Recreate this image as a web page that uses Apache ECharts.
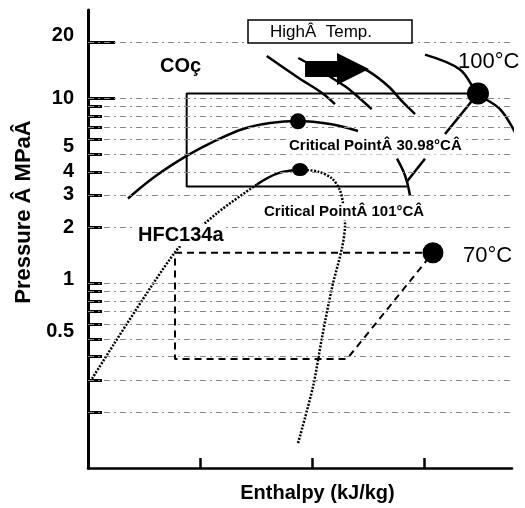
<!DOCTYPE html>
<html>
<head>
<meta charset="utf-8">
<script src="https://cdn.jsdelivr.net/npm/echarts@6/dist/echarts.min.js"></script>
<style>
  html, body { margin: 0; background: #fff; }
  #main { width: 525px; height: 508px; }
</style>
</head>
<body>
<div id="main"></div>
<script>
// pressure axis (MPa, log)
var pressureTicks = [0.2, 0.3, 0.4, 0.5, 0.6, 0.7, 0.8, 0.9, 1, 2, 3, 4, 5, 6, 7, 8, 9, 10, 20];
var pressureLabels = [0.5, 1, 2, 3, 4, 5, 10, 20];
var longTicks = [10, 20];
var raisedLabels = [0.5, 5, 20];
var halfRaisedLabels = [1];
// enthalpy axis ticks (no labels in the figure)
var enthalpyTicks = [200, 300, 400];

// CO2 : [enthalpy, pressure]
var co2Dome = [[135.7, 2.87], [159.8, 3.77], [188.4, 4.89], [213.4, 5.88], [238.4, 6.82],
  [262.5, 7.34], [287.5, 7.53], [316.1, 7.25], [341.1, 6.65]];
var co2Critical = [287.5, 7.5];
var co2Cycle = [[448.2, 10.6], [188.1, 10.6], [188.1, 3.33], [384.8, 3.33]];
var co2CompLow = [[384.8, 3.54], [400.9, 4.71]];
var co2CompHigh = [[418.8, 6.41], [448.2, 10.6]];
var co2Discharge = [448.2, 10.6];

// isotherms
var iso1 = [[259.6, 16.9], [287.8, 12.9], [308.7, 10.7], [320.5, 9.29]];
var iso2 = [[287.8, 16.5], [300.9, 14.9], [329.5, 11.6], [338.4, 10.5], [353.3, 8.73]];
var iso3 = [[333.9, 15.4], [350.3, 14.0], [368.1, 11.6], [380.1, 9.67], [392.0, 8.21]];
var iso100 = [[400.9, 17.2], [432.1, 14.3], [448.2, 10.6], [467.9, 8.73], [482.8, 6.28]];
var isoLow = [[375.9, 4.71], [381.3, 4.06], [384.8, 3.54], [387.5, 2.98]];

// HFC134a
var hfcLeft = [[103.6, 0.304], [177.7, 1.47], [215.2, 2.39], [250.9, 3.42]];
var hfcTop = [[250.9, 3.42], [268.8, 3.91], [289.3, 4.11]];
var hfcRight = [[289.3, 4.11], [305.4, 4.01], [317.9, 3.68], [325.0, 3.17], [327.7, 2.70],
  [329.5, 2.06], [326.8, 1.55], [317.9, 0.946], [309.0, 0.51], [300.9, 0.275], [287.5, 0.136]];
var hfcCritical = [289.3, 4.11];
var hfcCycle = [[177.7, 1.46], [408.0, 1.46], [331.3, 0.389], [177.7, 0.389], [177.7, 1.46]];
var hfcDischarge = [408.0, 1.46];

// "high temp." arrow
var arrowLine = [[293.8, 14.4], [336.6, 14.4]];

var FONT = 'Liberation Sans, Arial, sans-serif';

function curve(data, opts) {
  opts = opts || {};
  return {
    type: 'line',
    data: data,
    symbol: 'none',
    smooth: opts.smooth || 0,
    clip: opts.clip !== false,
    z: 3,
    lineStyle: { color: '#000', width: opts.width || 2.5, type: opts.type || 'solid' }
  };
}

function label(text, x, y, size, weight, bg) {
  return {
    type: 'text', x: x, y: y, z: 100,
    style: {
      text: text, font: weight + ' ' + size + 'px ' + FONT, fill: '#000',
      verticalAlign: 'middle', backgroundColor: bg ? '#fff' : null, padding: bg ? [1, 2] : 0
    }
  };
}

var tickFont = { color: '#000', fontFamily: FONT, fontWeight: 'bold', fontSize: 20 };

var chart = echarts.init(document.getElementById('main'));

chart.setOption({
  animation: false,
  backgroundColor: '#fff',
  grid: { left: 88, right: 13, top: 10, bottom: 36 },
  xAxis: {
    type: 'value', min: 100, max: 478.6, interval: 100,
    name: 'Enthalpy (kJ/kg)', nameLocation: 'middle', nameGap: 15,
    nameTextStyle: { color: '#000', fontFamily: FONT, fontWeight: 'bold', fontSize: 20, padding: [0, 0, 0, 35] },
    axisLine: { onZero: false, lineStyle: { color: '#000', width: 2.5 } },
    axisTick: { inside: true, length: 10, customValues: enthalpyTicks, lineStyle: { color: '#000', width: 2.5 } },
    axisLabel: { show: false },
    splitLine: { show: false }
  },
  yAxis: [{
    type: 'log', logBase: 10, min: 0.1, max: 30, position: 'left',
    name: 'Pressure Â MPaÂ', nameLocation: 'middle', nameRotate: 90, nameGap: 48,
    nameTextStyle: { color: '#000', fontFamily: FONT, fontWeight: 'bold', fontSize: 22, padding: [0, 0, 0, 54] },
    axisLine: { onZero: false, lineStyle: { color: '#000', width: 3 } },
    axisTick: { inside: true, length: 14, customValues: pressureTicks, lineStyle: { color: '#000', width: 3 } },
    axisLabel: {
      customValues: pressureLabels, margin: 14,
      color: '#000', fontFamily: FONT, fontWeight: 'bold', fontSize: 20,
      formatter: function (v) {
        var t = String(+v.toFixed(2));
        if (raisedLabels.indexOf(+t) >= 0) return '{up|' + t + '}';
        if (halfRaisedLabels.indexOf(+t) >= 0) return '{half|' + t + '}';
        return t;
      },
      rich: {
        up: Object.assign({ padding: [0, 0, 15, 0] }, tickFont),
        half: Object.assign({ padding: [0, 0, 8, 0] }, tickFont)
      }
    },
    splitLine: { show: false }
  }, {
    type: 'log', logBase: 10, min: 0.1, max: 30, position: 'left',
    axisLine: { show: false },
    axisTick: { inside: true, length: 27, customValues: longTicks, lineStyle: { color: '#000', width: 3 } },
    axisLabel: { show: false },
    splitLine: { show: false }
  }],
  series: [
    {
      type: 'line', data: [], z: 1,
      markLine: {
        silent: true, symbol: ['none', 'none'], label: { show: false },
        lineStyle: { color: '#888', width: 1, type: [6, 4, 2, 4] },
        data: pressureTicks.map(function (v) { return { yAxis: v }; })
      }
    },
    curve(co2Dome, { smooth: 0.35 }),
    curve(co2Cycle, { width: 2 }),
    curve(co2CompLow),
    curve(co2CompHigh),
    curve(iso1, { smooth: 0.35 }),
    curve(iso2, { smooth: 0.35 }),
    curve(iso3, { smooth: 0.35 }),
    curve(iso100, { smooth: 0.35, clip: false }),
    curve(isoLow, { smooth: 0.35 }),
    curve(hfcLeft, { smooth: 0.25, type: [2, 1.5] }),
    curve(hfcTop, { smooth: 0.35 }),
    curve(hfcRight, { smooth: 0.3, type: [2, 1.5] }),
    curve(hfcCycle, { width: 2, type: [7, 5] }),
    {
      type: 'lines', coordinateSystem: 'cartesian2d', z: 4,
      symbol: ['none', 'triangle'], symbolSize: [0, 32],
      lineStyle: { color: '#000', width: 16, opacity: 1 },
      data: [{ coords: arrowLine }]
    },
    {
      type: 'scatter', z: 5, itemStyle: { color: '#000', opacity: 1 },
      data: [
        { value: co2Critical, symbolSize: 16 },
        { value: hfcCritical, symbolSize: [16, 13] },
        { value: co2Discharge, symbolSize: 22 },
        { value: hfcDischarge, symbolSize: 21 }
      ]
    }
  ],
  graphic: [
    {
      type: 'rect', z: 99, shape: { x: 248, y: 20, width: 164, height: 23 },
      style: { fill: '#fff', stroke: '#000', lineWidth: 1.5 }
    },
    label('HighÂ  Temp.', 270, 32, 17, 'normal', false),
    label('COç', 160, 66, 20, 'bold', false),
    label('HFC134a', 136, 235, 20, 'bold', true),
    label('Critical PointÂ 30.98°CÂ', 287, 146, 15, 'bold', true),
    label('Critical PointÂ 101°CÂ', 262, 212, 15, 'bold', true),
    label('100°C', 458, 62, 22, 'normal', false),
    label('70°C', 463, 256, 22, 'normal', false)
  ]
});
</script>
</body>
</html>
